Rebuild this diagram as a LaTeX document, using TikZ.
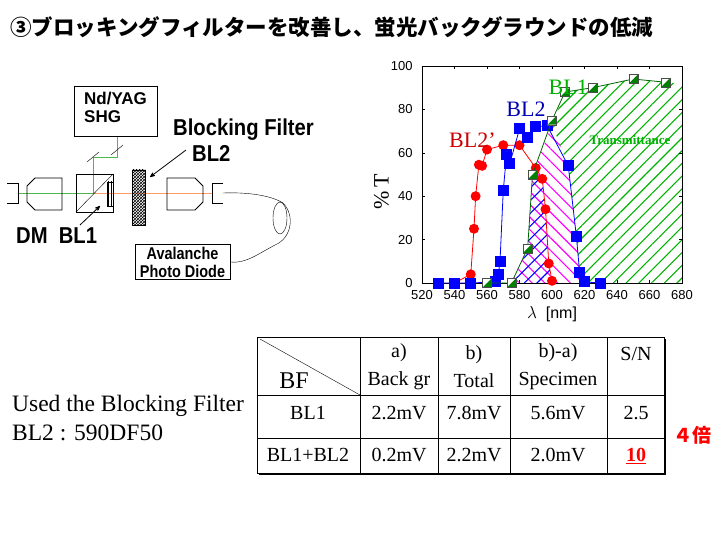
\documentclass[tikz,border=0pt]{standalone}
\usepackage{fontspec}
\setmainfont{Liberation Serif}
\setsansfont{Liberation Sans}
\newfontfamily\jp{Noto Sans CJK JP}
\usetikzlibrary{patterns, patterns.meta, arrows}
\begin{document}
\begin{tikzpicture}[x=1pt,y=-1pt,>=stealth',
      box/.style={draw,thick,fill=white},
      apt/.style={font=\sffamily\bfseries,inner sep=0pt},
      cell/.style={font=\fontsize{20}{22}\selectfont,inner sep=0pt},
      tick lbl/.style={font=\sffamily\fontsize{13}{14}\selectfont,inner sep=1pt},
      red dot/.style={circle,fill=red,inner sep=0pt,minimum size=10pt},
      blue sq/.style={fill=blue,inner sep=0pt,minimum size=11pt},
      green sq/.style={draw=black!70,fill=white,inner sep=0pt,minimum size=9pt,
          path picture={\fill[green!50!black] (path picture bounding box.north east) -- (path picture bounding box.south west) -- (path picture bounding box.south east) -- cycle;}}]
    \useasboundingbox[fill=white] (0,0) rectangle (720,540);

    % title
    \node[anchor=west,inner sep=0pt] (title) at (10,27)
        {\jp\bfseries\fontsize{21.5}{24}\selectfont ③ブロッキングフィルターを改善し、蛍光バックグラウンドの低減};

    % optical setup
    \draw[orange!70!red!60,thick] (18,193) -- (213,193);
    \draw[green!60!black!70,thick] (18,193) -- (93,193) -- (93,157) -- (117,157) -- (117,136);
    \draw (87,162) -- (99,152) (111,155) -- (123,145);
    \draw[thick] (7,183) -- (18,183) -- (18,203) -- (7,203);
    \draw[thick] (35,178) -- (62,178) -- (62,210) -- (35,210) -- (27,202) -- (27,186) -- cycle;
    \draw[thick] (76,174) rectangle (113,212);
    \draw (76,212) -- (113,174);
    \draw[pattern=vertical lines] (107,182) rectangle (113,206);
    \draw[thick,pattern=crosshatch] (132,170) rectangle (145,225);
    \draw[thick] (167,178) -- (195,178) -- (203,186) -- (203,202) -- (195,210) -- (167,210) -- cycle;
    \draw[thick] (223,183) -- (212,183) -- (212,203) -- (223,203);
    \node[box,minimum width=83pt,minimum height=50pt] (yag) at (115.5,111) {};
    \node[apt,anchor=north west,align=left,font=\sffamily\bfseries\fontsize{17}{18}\selectfont] (yagtxt) at (84,92) {Nd/YAG\\SHG};
    \node[box,minimum width=95pt,minimum height=35pt] (apd) at (182.5,262) {};
    \node[apt,align=center,font=\sffamily\bfseries\fontsize{17}{18}\selectfont,xscale=0.85] (apdtxt) at (apd) {Avalanche\\Photo Diode};
    \coordinate (fib) at (223,193);
    \draw (fib) .. controls (250,192) and (272,196) .. (283,203)
          .. controls (295,215) and (292,238) .. (275,245)
          .. controls (258,254) and (245,264) .. (apd.east);
    \draw (280,218) ellipse (7pt and 16pt);
    \node[apt,anchor=west,font=\sffamily\bfseries\fontsize{23}{25}\selectfont,xscale=0.88] (bftxt) at (173,130) {Blocking Filter};
    \node[apt,anchor=west,font=\sffamily\bfseries\fontsize{23}{25}\selectfont,xscale=0.88] (bl2txt) at (192,153) {BL2};
    \node[apt,anchor=west,font=\sffamily\bfseries\fontsize{23}{25}\selectfont,xscale=0.88] (dmtxt) at (16,236) {DM\ \ BL1};
    \coordinate (bfarrow) at (150,177);
    \coordinate (bl1arrow) at (100,206);
    \draw[->,thick] (186,150) -- (bfarrow);
    \draw[->,thick] (80,225) -- (bl1arrow);

    % transmittance plot
    \begin{scope}[shift={(422,283)},x=1.625pt,y=2.17pt,xshift=-845pt]
        \fill[pattern={Lines[angle=45,distance=9pt,line width=1.1pt]},pattern color=green!70!black]
            (620,0) -- (617,5) -- (615,21.5) -- (610,54) -- (600,73) -- (608,88) -- (625,90) -- (650,94) -- (670,92.5) -- (680,92) -- (680,0) -- cycle;
        \fill[pattern={Lines[angle=-45,distance=9pt,line width=1.1pt]},pattern color=magenta]
            (575,0) -- (585,16) -- (588,50) -- (600,73) -- (610,54) -- (615,21.5) -- (617,5) -- (620,0) -- cycle;
        \fill[pattern={Lines[angle=45,distance=9pt,line width=1.1pt]},pattern color=blue]
            (576,0) -- (585,16) -- (588,50) -- (590,53) -- (594,48) -- (596,34) -- (598,9) -- (600,1) -- (600,0) -- cycle;
        \draw[thin] (520,0) rectangle (680,100);
        \foreach \x in {520,540,...,680} {
            \draw (\x,0) -- (\x,1.5) (\x,100) -- (\x,98.5);
            \node[tick lbl,anchor=north] at (\x,-3) {\x};
        }
        \foreach \y in {0,20,...,100} {
            \draw (520,\y) -- (522,\y) (680,\y) -- (678,\y);
            \node[tick lbl,anchor=east] at (515,\y) {\y};
        }
        \draw[red,thick] plot coordinates {(540,0) (550,4) (552,25) (553,40) (555,54.5) (557,54) (560,61.5) (570,63.5) (580,63.5) (590,53) (594,48) (596,34) (598,9) (600,1)};
        \foreach \p in {(550,4),(552,25),(553,40),(555,54.5),(557,54),(560,61.5),(570,63.5),(580,63.5),(590,53),(594,48),(596,34),(598,9),(600,1)}
            \node[red dot] at \p {};
        \draw[blue,thick] plot coordinates {(530,0) (540,0) (550,0) (565,0.5) (567,4) (568,10) (570,42.5) (572,59) (574,55) (580,71) (585,67) (590,72) (597,72.5) (610,54) (615,21.5) (617,5) (620,0.5) (630,0)};
        \foreach \p in {(530,0),(540,0),(550,0),(565,0.5),(567,4),(568,10),(570,42.5),(572,59),(574,55),(580,71),(585,67),(590,72),(597,72.5),(610,54),(615,21.5),(617,5),(620,0.5),(630,0)}
            \node[blue sq] at \p {};
        \draw[green!40!black,thick] plot coordinates {(560,0) (575,0) (585,16) (588,50) (600,75) (608,88) (625,90) (650,94) (670,92.5)};
        \foreach \p in {(560,0),(575,0),(585,16),(588,50),(600,75),(608,88),(625,90),(650,94),(670,92.5)}
            \node[green sq] at \p {};
        \node[green!70!black,font=\fontsize{22}{24}\selectfont] (bl1lbl) at (610,90) {BL1};
        \node[blue!70!black,font=\fontsize{22}{24}\selectfont] (bl2lbl) at (584,80) {BL2};
        \node[red!80!black,font=\fontsize{22}{24}\selectfont] (bl2plbl) at (551,66) {BL2'};
        \node[green!70!black,font=\bfseries\fontsize{13}{14}\selectfont] (trans) at (648,66) {Transmittance};
        \node[rotate=90,font=\fontsize{22}{24}\selectfont] (ylbl) at (495,42) {\%\,T};
        \node[font=\sffamily\fontsize{16}{17}\selectfont] (xlbl) at (600,-14.5) {$\lambda$\ \ [nm]};
    \end{scope}

    % note
    \node[anchor=west,align=left,font=\fontsize{23.5}{29}\selectfont,inner sep=0pt] (note) at (12,418)
        {Used the Blocking Filter\\BL2 : 590DF50};

    % table
    \fill[black] (259,339) rectangle (666,475);
    \draw[fill=white,thick] (257,337) rectangle (664,473);
    \draw[thick] (360,337) -- (360,473) (438,337) -- (438,473) (510,337) -- (510,473) (607,337) -- (607,473)
                 (257,395) -- (664,395) (257,438) -- (664,438);
    \draw (260,339) -- (360,395);
    \node[cell,font=\fontsize{24}{26}\selectfont] (bf) at (294,381) {BF};
    \node[cell,align=center] (hbg) at (399,367) {a)\\[6pt]Back gr};
    \node[cell,align=center] (htot) at (474,367) {b)\\[6pt]Total};
    \node[cell,align=center] (hspec) at (558,367) {b)-a)\\[6pt]Specimen};
    \node[cell] (hsn) at (636,354) {S/N};
    \node[cell] (r1) at (308,413) {BL1};
    \node[cell] (r1a) at (399,413) {2.2mV};
    \node[cell] (r1b) at (474,413) {7.8mV};
    \node[cell] (r1c) at (558,413) {5.6mV};
    \node[cell] (r1d) at (636,413) {2.5};
    \node[cell] (r2) at (308,455) {BL1+BL2};
    \node[cell] (r2a) at (399,455) {0.2mV};
    \node[cell] (r2b) at (474,455) {2.2mV};
    \node[cell] (r2c) at (558,455) {2.0mV};
    \node[cell,red,font=\bfseries\fontsize{20}{22}\selectfont] (r2d) at (636,456) {\underline{10}};
    \node[red,font=\jp\bfseries\fontsize{19}{20}\selectfont] (gain) at (692,435) {４倍};
\end{tikzpicture}
\end{document}
